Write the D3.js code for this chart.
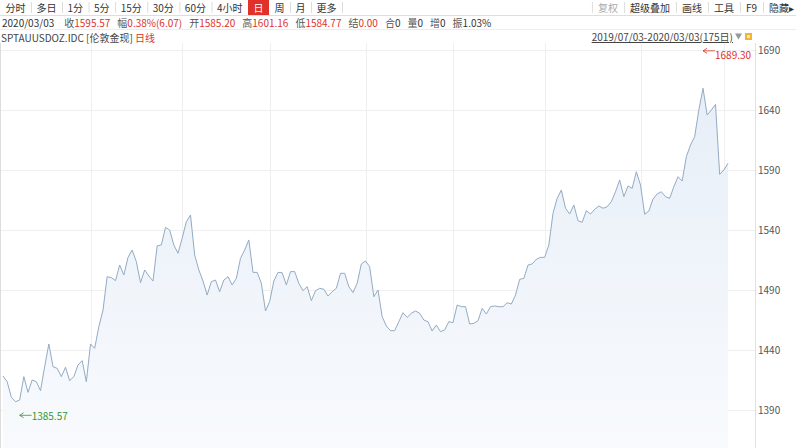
<!DOCTYPE html>
<html><head><meta charset="utf-8">
<script src="https://cdn.jsdelivr.net/npm/d3@7"></script>
<style>
body{margin:0;background:#fff;}
svg{display:block;font-family:"Noto Sans CJK SC","Noto Sans",sans-serif;}
</style>
</head><body>
<svg id="c" width="796" height="448"></svg>
<script>
// ---------- data ----------
const closes = [
1418.3,1413.6,1400.6,1396.9,1398.3,1417.8,1404.7,1415.0,1413.6,1406.1,
1426.1,1445.0,1426.1,1424.7,1417.8,1425.6,1414.4,1417.8,1427.5,1431.1,
1413.6,1445.0,1441.4,1459.4,1473.3,1501.1,1500.3,1497.8,1510.8,1502.5,
1517.2,1523.3,1513.6,1496.1,1506.7,1501.7,1497.5,1526.9,1527.5,1542.2,
1540.0,1527.5,1520.6,1533.1,1546.9,1552.5,1519.2,1506.7,1497.5,1485.8,
1496.9,1498.3,1488.6,1498.3,1501.1,1494.2,1499.7,1516.4,1523.3,1531.7,
1504.7,1504.7,1495.6,1472.5,1480.3,1497.5,1504.7,1504.4,1494.2,1505.3,
1505.3,1495.6,1489.4,1492.8,1481.1,1489.4,1491.4,1490.6,1485.0,1488.6,
1491.4,1503.9,1503.9,1492.8,1487.8,1495.6,1511.7,1514.2,1509.4,1484.4,
1490.0,1467.8,1460.0,1456.1,1456.1,1463.6,1471.1,1467.2,1470.6,1472.5,
1470.6,1465.0,1463.6,1455.8,1460.8,1455.3,1456.7,1463.6,1462.8,1477.5,
1476.1,1476.1,1461.7,1462.2,1464.4,1474.7,1470.0,1476.1,1476.7,1476.1,
1476.1,1479.4,1478.3,1485.8,1498.9,1499.7,1510.8,1511.7,1515.6,1517.2,
1517.2,1527.5,1553.9,1566.4,1573.3,1558.1,1553.3,1560.8,1547.8,1546.4,
1556.1,1553.3,1557.2,1560.0,1558.1,1559.4,1563.6,1571.9,1581.7,1567.8,
1576.7,1574.7,1588.6,1577.5,1553.1,1555.8,1565.8,1570.0,1571.9,1567.8,
1566.4,1576.1,1584.4,1580.8,1601.1,1610.8,1617.8,1640.0,1658.1,1635.8,
1640.0,1644.7,1586.4,1590.0,1595.6
];
const yTicks = [1390,1440,1490,1540,1590,1640,1690];
const tabs = ["分时","多日","1分","5分","15分","30分","60分","4小时","日","周","月","更多"];
const activeTab = "日";
const tools = ["复权","超级叠加","画线","工具","F9","隐藏▸"];
const disabledTools = ["复权"];
const quoteDate = "2020/03/03";
const quoteLabels = ["收","幅","开","高","低","结","合","量","增","振"];
const quoteValues = ["1595.57","0.38%(6.07)","1585.20","1601.16","1584.77","0.00","0","0","0","1.03%"];
const quoteRed = [true,true,true,true,true,true,false,false,false,false];
const symbolText = "SPTAUUSDOZ.IDC [伦敦金现] ";
const periodText = "日线";
const rangeText = "2019/07/03-2020/03/03(175日)";
const highMark = {value:1689.30, index:168, label:"1689.30"};
const lowMark = {value:1385.57, index:4, label:"1385.57"};
const startDate = new Date(2019,6,3), endDate = new Date(2020,2,3);
const dates = d3.timeDay.range(startDate, d3.timeDay.offset(endDate,1)).filter(d => d.getDay()%6 !== 0);

// ---------- layout ----------
const W = 796, H = 448;
const plotTop = 43, plotBottom = 448, plotRight = 755;
const svg = d3.select("#c");
const RED = "#e0312a", GREEN = "#2f9a3a";

const x = d3.scalePoint().domain(d3.range(closes.length)).range([3, 728]);
const y = d3.scaleLinear().domain([1390, 1690]).range([410, 50]);

// gradient
const defs = svg.append("defs");
const grad = defs.append("linearGradient").attr("id","g").attr("gradientUnits","userSpaceOnUse")
  .attr("x1",0).attr("x2",0).attr("y1",50).attr("y2",plotBottom);
grad.append("stop").attr("offset",0).attr("stop-color","#e5edf7");
grad.append("stop").attr("offset",1).attr("stop-color","#f8fafd");
defs.append("clipPath").attr("id","clip").append("rect")
  .attr("x",0).attr("y",plotTop).attr("width",plotRight).attr("height",plotBottom-plotTop);

// grid
const grid = svg.append("g");
grid.selectAll("line.h").data(yTicks).join("line")
  .attr("x1",0).attr("x2",plotRight+2).attr("y1",d=>Math.round(y(d))+0.5).attr("y2",d=>Math.round(y(d))+0.5)
  .attr("stroke","#efefef");
const monthStarts = d3.range(1, dates.length).filter(i => dates[i].getMonth() !== dates[i-1].getMonth());
grid.selectAll("line.v").data(monthStarts).join("line")
  .attr("x1",i=>Math.round(x(i))+0.5).attr("x2",i=>Math.round(x(i))+0.5)
  .attr("y1",plotTop).attr("y2",plotBottom).attr("stroke","#efefef");

// area + line
const g = svg.append("g").attr("clip-path","url(#clip)");
g.append("path").datum(closes)
  .attr("d", d3.area().x((d,i)=>x(i)).y0(plotBottom).y1(d=>y(d)))
  .attr("fill","url(#g)");
g.append("path").datum(closes)
  .attr("d", d3.line().x((d,i)=>x(i)).y(d=>y(d)))
  .attr("fill","none").attr("stroke","#93abc4").attr("stroke-width",1);

// borders
svg.append("line").attr("x1",0.5).attr("x2",0.5).attr("y1",plotTop).attr("y2",H).attr("stroke","#dcdcdc");
svg.append("line").attr("x1",plotRight+0.5).attr("x2",plotRight+0.5).attr("y1",plotTop).attr("y2",H).attr("stroke","#e2e2e2");

// y axis
const ax = svg.append("g").attr("transform",`translate(${plotRight+2},0)`)
  .call(d3.axisRight(y).tickValues(yTicks).tickSize(0).tickPadding(1).tickFormat(d3.format("d")));
ax.select(".domain").remove();
ax.selectAll("text").attr("fill","#555").style("font-size","10px")
  .style("font-family",'"Noto Sans CJK SC","Noto Sans",sans-serif');

// extreme markers
function mark(m, color, dy){
  const px = x(m.index), py = y(m.value);
  const gg = svg.append("g");
  gg.append("path").attr("d",`M${px+12},${py}L${px},${py}M${px+4},${py-2.5}L${px},${py}L${px+4},${py+2.5}`)
    .attr("fill","none").attr("stroke",color).attr("stroke-width",0.8);
  gg.append("text").attr("x",px+12).attr("y",py+dy).attr("dominant-baseline","central")
    .attr("fill",color).style("font-size","10px").text(m.label);
}
mark(highMark, RED, 3.5);
mark(lowMark, GREEN, 0);

// ---------- header ----------
const hdr = svg.append("g").style("font-size","10px");
hdr.append("rect").attr("x",0).attr("y",0).attr("width",W).attr("height",15).attr("fill","#fff");
hdr.append("line").attr("x1",0).attr("x2",W).attr("y1",15.5).attr("y2",15.5).attr("stroke","#dedede");
hdr.append("line").attr("x1",0).attr("x2",W).attr("y1",29.5).attr("y2",29.5).attr("stroke","#ececec");

// tabs
let cx = 0;
tabs.forEach(t => {
  const tt = hdr.append("text").attr("y",7.5).attr("dominant-baseline","central").attr("text-anchor","middle").text(t);
  const tw = tt.node().getComputedTextLength();
  const w = tw + 11;
  if (t === activeTab) {
    hdr.insert("rect", "text").attr("x",cx).attr("y",0).attr("width",w).attr("height",15).attr("fill",RED);
    tt.attr("fill","#fff");
  } else tt.attr("fill","#333");
  tt.attr("x", cx + w/2);
  cx += w;
  if (t !== activeTab && tabs[tabs.indexOf(t)+1] !== activeTab)
    hdr.append("line").attr("x1",cx+0.5).attr("x2",cx+0.5).attr("y1",2).attr("y2",13).attr("stroke","#ddd");
});

// tools (right aligned)
let rx = W;
tools.slice().reverse().forEach((t,k) => {
  const tt = hdr.append("text").attr("y",7.5).attr("dominant-baseline","central").attr("text-anchor","middle")
    .attr("fill", disabledTools.includes(t) ? "#aaa" : "#333").text(t);
  const tw = tt.node().getComputedTextLength();
  const w = tw + (k === 0 ? 8 : 12);
  tt.attr("x", rx - w/2 + (k===0 ? 2 : 0));
  rx -= w;
  hdr.append("line").attr("x1",rx+0.5).attr("x2",rx+0.5).attr("y1",2).attr("y2",13).attr("stroke","#ddd");
});

// quote row
const q = hdr.append("text").attr("x",2).attr("y",22).attr("dominant-baseline","central");
q.append("tspan").attr("fill","#333").text(quoteDate);
quoteLabels.forEach((l,i) => {
  q.append("tspan").attr("dx", i===0 ? 10 : 7).attr("fill","#555").text(l);
  q.append("tspan").attr("fill", quoteRed[i] ? RED : "#333").text(quoteValues[i]);
});

// symbol row
const s = hdr.append("text").attr("x",1).attr("y",36.5).attr("dominant-baseline","central");
s.append("tspan").attr("fill","#444").text(symbolText);
s.append("tspan").attr("fill",RED).text(periodText);

hdr.append("text").attr("x",733).attr("y",36.5).attr("dominant-baseline","central").attr("text-anchor","end")
  .attr("fill","#444").attr("text-decoration","underline").text(rangeText);
hdr.append("path").attr("d","M735,33.5L742,33.5L738.5,39.5Z").attr("fill","#999");
hdr.append("rect").attr("x",745).attr("y",33).attr("width",7).attr("height",7).attr("fill","#f2b233");
hdr.append("rect").attr("x",747).attr("y",35).attr("width",3).attr("height",3).attr("fill","#fde6a8");
</script>
</body></html>
